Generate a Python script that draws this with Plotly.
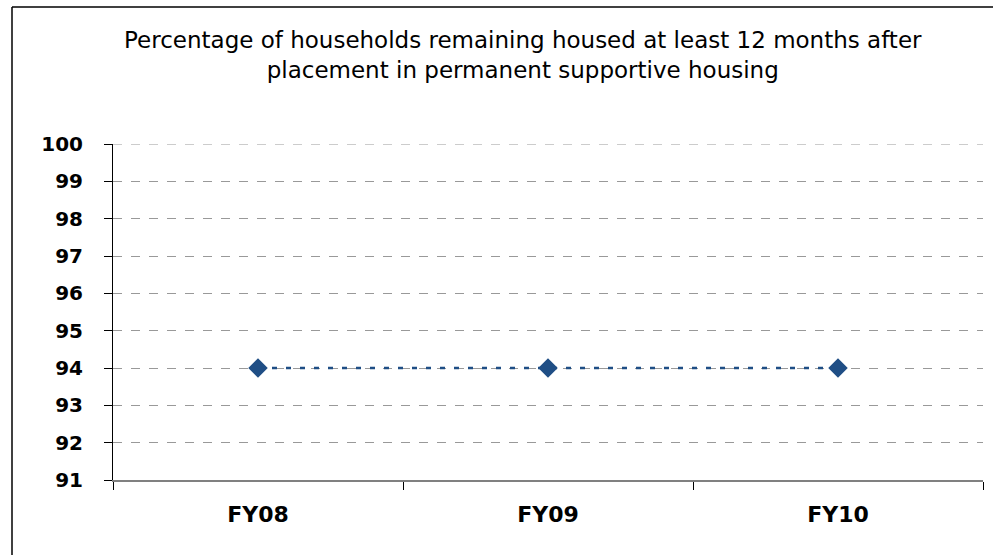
import plotly.graph_objects as go

# Fiscal years and share of households still housed after 12 months (%)
years = ["FY08", "FY09", "FY10"]
pct_housed = [94, 94, 94]
y_ticks = [91, 92, 93, 94, 95, 96, 97, 98, 99, 100]

title_text = ("Percentage of households remaining housed at least 12 months after"
              "<br>placement in permanent supportive housing")

W, H = 993, 555
ML, MR, MT, MB = 113, 10, 144, 75
plot_w = W - ML - MR
plot_h = H - MT - MB


def px_to_paper_x(px):
    return (px - ML) / plot_w


def px_to_paper_y(py):
    return (H - MB - py) / plot_h


series_color = "#1F4E85"
font_family = "DejaVu Sans, Verdana, sans-serif"
frame_left, frame_top = px_to_paper_x(12), px_to_paper_y(7)

fig = go.Figure()
fig.add_trace(go.Scatter(
    x=years,
    y=pct_housed,
    mode="lines+markers",
    line=dict(color=series_color, width=2.5, dash="5px,9px"),
    marker=dict(symbol="diamond", size=15, color=series_color),
    showlegend=False,
    hoverinfo="x+y",
))

fig.update_layout(
    width=W,
    height=H,
    margin=dict(l=ML, r=MR, t=MT, b=MB),
    paper_bgcolor="white",
    plot_bgcolor="white",
    font=dict(family=font_family, color="black"),
    xaxis=dict(
        type="category",
        range=[-0.5, 2.5],
        showline=True,
        linecolor="#808080",
        linewidth=1.5,
        ticks="outside",
        tickson="boundaries",
        ticklen=8,
        tickcolor="#000000",
        tickwidth=1,
        showgrid=False,
        tickfont=dict(size=22, family=font_family, weight="bold"),
        ticklabelstandoff=14,
        zeroline=False,
    ),
    yaxis=dict(
        range=[91, 100],
        tickvals=y_ticks,
        showline=True,
        linecolor="#000000",
        linewidth=1,
        ticks="outside",
        ticklen=8,
        tickcolor="#000000",
        showgrid=True,
        gridcolor="#999999",
        gridwidth=1,
        griddash="dash",
        zeroline=False,
        tickfont=dict(size=20, family=font_family, weight="bold"),
        ticklabelstandoff=17,
    ),
    annotations=[dict(
        text=title_text,
        x=px_to_paper_x(523),
        y=px_to_paper_y(55),
        xref="paper",
        yref="paper",
        xanchor="center",
        yanchor="middle",
        showarrow=False,
        align="center",
        font=dict(size=23, family=font_family, color="black"),
    )],
    shapes=[
        # dashed gridline along the top of the value range
        dict(
            type="line",
            xref="paper",
            yref="y",
            x0=0,
            x1=1,
            y0=y_ticks[-1],
            y1=y_ticks[-1],
            line=dict(color="#999999", width=1, dash="dash"),
            layer="below",
        ),
        # outer chart frame: top edge
        dict(
            type="line",
            xref="paper",
            yref="paper",
            x0=frame_left,
            x1=px_to_paper_x(W + 5),
            y0=frame_top,
            y1=frame_top,
            line=dict(color="#000000", width=1.5),
            layer="below",
        ),
        # outer chart frame: left edge
        dict(
            type="line",
            xref="paper",
            yref="paper",
            x0=frame_left,
            x1=frame_left,
            y0=frame_top,
            y1=px_to_paper_y(H + 5),
            line=dict(color="#000000", width=1.5),
            layer="below",
        ),
    ],
)

fig.write_html("out.html")
